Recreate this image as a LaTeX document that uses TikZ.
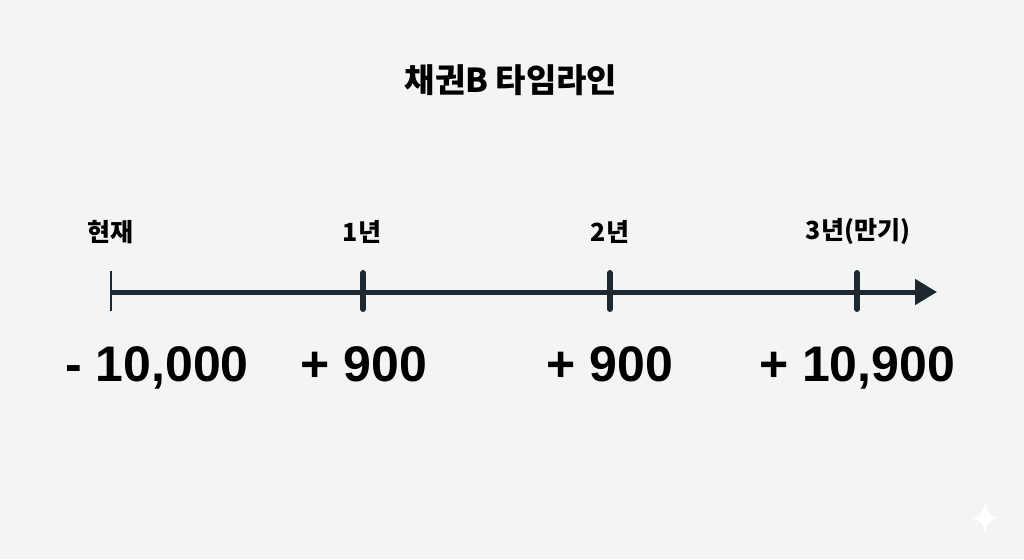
\documentclass[tikz,border=0pt]{standalone}
\usepackage{fontspec}
\setmainfont{Liberation Sans}
\newfontfamily\kr{Noto Sans CJK KR}
\usetikzlibrary{arrows.meta}
\definecolor{bg}{HTML}{F3F5F5}
\definecolor{ink}{HTML}{1E2830}
\tikzset{
  lbl/.style={font=\kr\fontsize{25}{28}\selectfont\bfseries, text=black, inner sep=0pt},
  amt/.style={font=\fontsize{50}{54}\selectfont\bfseries, text=black, inner sep=0pt, anchor=base},
  tick/.style={line width=6pt, line cap=round, draw=ink},
}
\begin{document}
\begin{tikzpicture}[x=1pt,y=-1pt]
\fill[bg] (0,0) rectangle (1024,559);
\useasboundingbox (0,0) rectangle (1024,559);
\node[font=\kr\fontsize{33}{36}\selectfont\bfseries, inner sep=0pt] (title) at (511,80) {채권B 타임라인};
% axis
\coordinate (start) at (111,292);
\coordinate (end) at (937,292);
\draw[draw=ink, line width=5pt, -{Triangle[length=22pt,width=25pt]}] (start) -- (end);
\draw[draw=ink, line width=2.2pt] (111,271) coordinate (s0) -- (111,311) coordinate (s1);
\draw[tick] (363,273) -- (363,309);
\draw[tick] (610,273) -- (610,309);
\draw[tick] (857,273) -- (857,309);
% labels
\node[lbl] (l0) at (110,232) {현재};
\node[lbl] (l1) at (362,232) {1년};
\node[lbl] (l2) at (610,232) {2년};
\node[lbl] (l3) at (858,232) {3년(만기)};
% amounts
\node[amt] (a0) at (157,381) {- 10,000};
\node[amt] (a1) at (364,381) {+ 900};
\node[amt] (a2) at (610,381) {+ 900};
\node[amt] (a3) at (857,381) {+ 10,900};
% watermark sparkle
\fill[white] (985,503) .. controls (987,513) and (990,516) .. (998,518)
  .. controls (990,520) and (987,523) .. (985,533)
  .. controls (983,523) and (980,520) .. (972,518)
  .. controls (980,516) and (983,513) .. (985,503) -- cycle;
\end{tikzpicture}
\end{document}
